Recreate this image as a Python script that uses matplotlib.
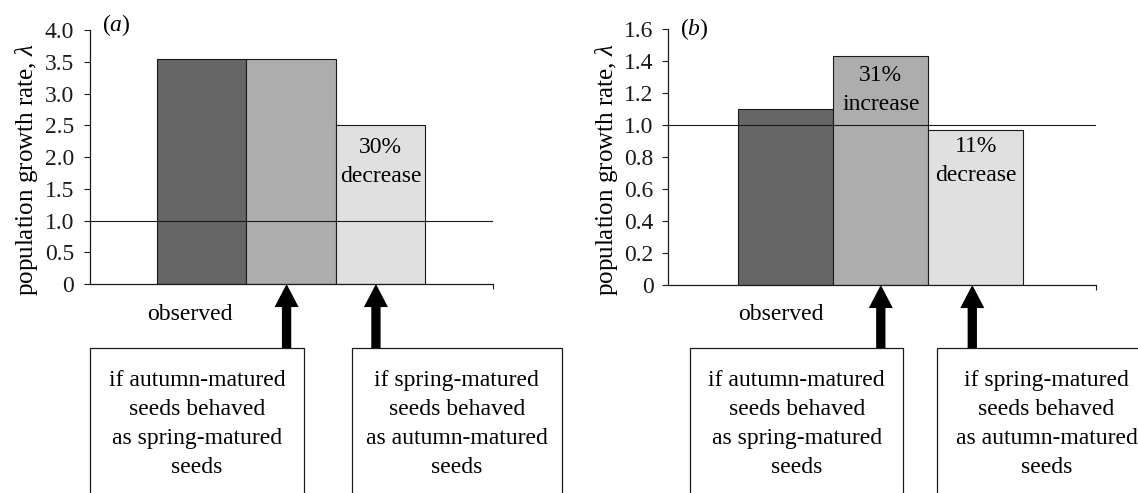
import matplotlib
matplotlib.use('Agg')
import matplotlib.pyplot as plt
from matplotlib.patches import Rectangle

plt.rcParams['font.family'] = ['Liberation Serif', 'DejaVu Serif']
plt.rcParams['mathtext.fontset'] = 'custom'
plt.rcParams['mathtext.rm'] = 'Liberation Serif'
plt.rcParams['mathtext.it'] = 'Liberation Serif:italic'

# ---------------- data ----------------
categories = ['observed',
              'autumn-matured seeds as spring-matured',
              'spring-matured seeds as autumn-matured']
lambda_a = [3.55, 3.55, 2.51]
lambda_b = [1.10, 1.43, 0.97]

yticks_a = [0, 0.5, 1.0, 1.5, 2.0, 2.5, 3.0, 3.5, 4.0]
yticklabels_a = ['0', '0.5', '1.0', '1.5', '2.0', '2.5', '3.0', '3.5', '4.0']
yticks_b = [0, 0.2, 0.4, 0.6, 0.8, 1.0, 1.2, 1.4, 1.6]
yticklabels_b = ['0', '0.2', '0.4', '0.6', '0.8', '1.0', '1.2', '1.4', '1.6']

change_idx_a = [2]
change_text_a = ['30%\ndecrease']
change_idx_b = [1, 2]
change_text_b = ['31%\nincrease', '11%\ndecrease']

panel_labels = ['a', 'b']
observed_label = 'observed'
box_texts = ['if autumn-matured\nseeds behaved\nas spring-matured\nseeds',
             'if spring-matured\nseeds behaved\nas autumn-matured\nseeds']
ylabel = r'population growth rate, $\lambda$'
reference_lambda = 1.0

bar_colors = ['#666666', '#adadad', '#e0e0e0']

# ---------------- layout ----------------
W, H = 1138, 493
fig = plt.figure(figsize=(W / 100, H / 100), dpi=100)
fig.patch.set_facecolor('white')

panels = [
    dict(rect=(90, 30, 493, 284), vals=lambda_a, yt=yticks_a, ytl=yticklabels_a, ymax=4.0,
         xlim=(-1.25, 3.26), cidx=change_idx_a, ctxt=change_text_a, coff=[37],
         label=panel_labels[0], label_y=25, obs_x=-0.13, obs_dy=31,
         boxes=[(-1.25, 1.144), (1.677, 4.03)], arrows=[0.95, 1.95], box_top=64,
         box_text_dy=140, ytick_pad=7.0, ylab_x=40, ylab_y=170),
    dict(rect=(667.7, 29.3, 1095.7, 285), vals=lambda_b, yt=yticks_b, ytl=yticklabels_b, ymax=1.6,
         xlim=(-1.243, 3.262), cidx=change_idx_b, ctxt=change_text_b, coff=[34, 31],
         label=panel_labels[1], label_y=29.3, obs_x=-0.05, obs_dy=30,
         boxes=[(-1.008, 1.237), (1.589, 3.9)], arrows=[1.0, 1.963], box_top=63,
         box_text_dy=139, ytick_pad=6.0, ylab_x=620, ylab_y=170),
]

FS = 17
LS = 1.5
EC = '#1a1a1a'

for p in panels:
    l, t, r, b = p['rect']
    axw, axh = r - l, b - t
    ax = fig.add_axes([l / W, 1 - b / H, axw / W, axh / H])
    x = list(range(len(p['vals'])))
    ax.bar(x, p['vals'], width=1.0, color=bar_colors, edgecolor=EC, linewidth=0.8, zorder=2)
    ax.axhline(reference_lambda, color=EC, lw=0.8, zorder=3)
    ax.set_xlim(*p['xlim'])
    ax.set_ylim(0, p['ymax'])
    ax.set_yticks(p['yt'], p['ytl'])
    ax.set_xticks([p['xlim'][1]], [''])
    ax.tick_params(axis='y', direction='out', length=4.3, width=0.8, pad=p['ytick_pad'],
                   labelsize=FS, colors=EC)
    ax.tick_params(axis='x', direction='out', length=3.5, width=0.8, colors=EC)
    for s in ['top', 'right']:
        ax.spines[s].set_visible(False)
    for s in ['left', 'bottom']:
        ax.spines[s].set_linewidth(0.9)
        ax.spines[s].set_color(EC)
        ax.spines[s].set_zorder(4)
    ax.set_ylabel(ylabel, fontsize=18)
    ax.yaxis.set_label_coords((p['ylab_x'] - l) / axw, (b - p['ylab_y']) / axh)

    # panel label
    ax.text(12 / axw, (b - p['label_y']) / axh, r'($\it{' + p['label'] + '}$)',
            transform=ax.transAxes, fontsize=FS, ha='left', va='center')

    # change labels inside bars
    for i, txt, off in zip(p['cidx'], p['ctxt'], p['coff']):
        ax.annotate(txt, xy=(x[i], p['vals'][i]), xytext=(0, -off * 0.72),
                    textcoords='offset points', ha='center', va='center',
                    fontsize=FS, linespacing=LS, multialignment='center', zorder=5)

    tr = ax.get_xaxis_transform()
    # observed label
    ax.text(p['obs_x'], -p['obs_dy'] / axh, observed_label, transform=tr,
            ha='center', va='center', fontsize=FS, clip_on=False)

    # boxes
    top_frac = -p['box_top'] / axh
    for (x0, x1), txt in zip(p['boxes'], box_texts):
        rect = Rectangle((x0, top_frac - 2), x1 - x0, 2, transform=tr, clip_on=False,
                         facecolor='white', edgecolor=EC, linewidth=0.9, zorder=1)
        ax.add_patch(rect)
        ax.text((x0 + x1) / 2, -p['box_text_dy'] / axh, txt, transform=tr,
                ha='center', va='center', fontsize=FS, linespacing=LS,
                multialignment='center', clip_on=False)

    # arrows
    for xa in p['arrows']:
        ax.annotate('', xy=(xa, 0), xycoords=('data', 'axes fraction'),
                    xytext=(xa, top_frac), textcoords=('data', 'axes fraction'),
                    arrowprops=dict(arrowstyle='simple,head_length=1.66,head_width=1.73,tail_width=0.67',
                                    mutation_scale=10, fc='black', ec='none', lw=0,
                                    shrinkA=0, shrinkB=0),
                    annotation_clip=False, zorder=6)

fig.savefig('out.png', dpi=100)
